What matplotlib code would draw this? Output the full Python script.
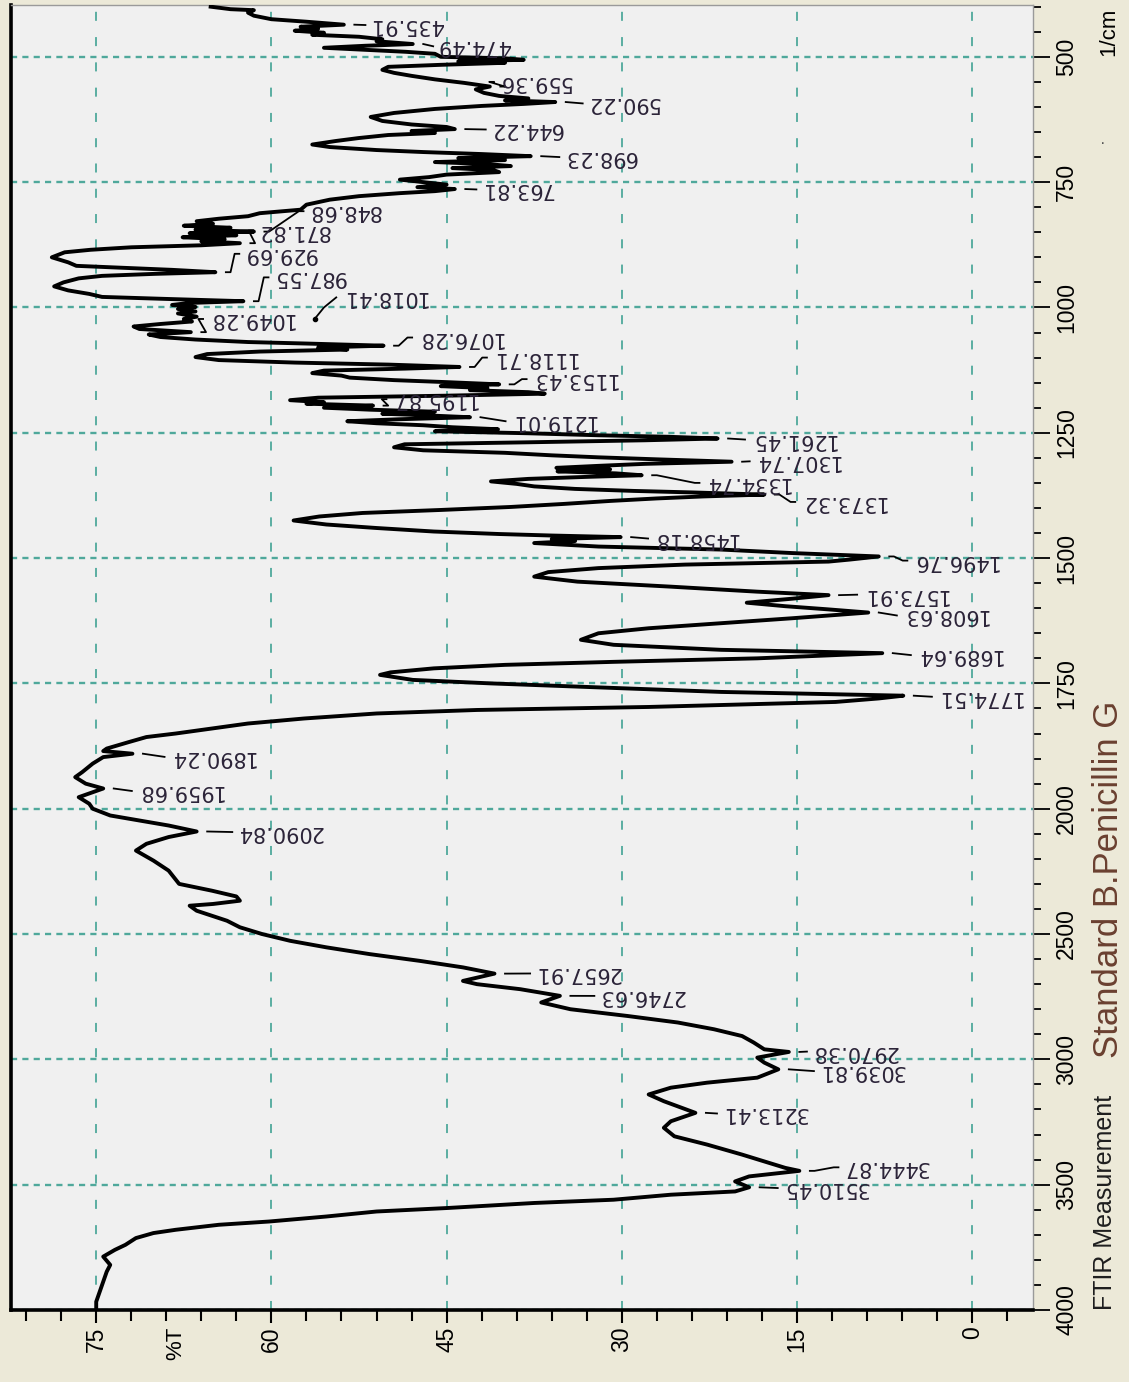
import numpy as np
import matplotlib
matplotlib.use("Agg")
import matplotlib.pyplot as plt
from matplotlib.ticker import MultipleLocator, FixedLocator

# FTIR trace: wavenumber (1/cm) and transmittance (%T)
wavenumber = [
    400, 405, 407, 412, 418, 425, 430, 435.91, 440, 444, 448, 452, 456, 460, 465, 469,
    474.49, 478, 482, 486, 490, 494, 500, 503, 506, 509, 512, 516, 520, 526, 532, 538,
    545, 552, 559.36, 565, 572, 578, 583, 587, 590.22, 594, 598, 604, 612, 620, 628, 635,
    640, 644.22, 648, 652, 656, 662, 668, 675, 680, 686, 690, 694, 698.23, 702, 706, 710,
    714, 718, 722, 726, 730, 735, 740, 745, 750, 755, 760, 763.81, 768, 772, 778, 785,
    795, 805, 812, 818, 823, 828, 833, 837, 841, 845, 848.68, 852, 856, 860, 864, 868,
    871.82, 876, 880, 885, 890, 900, 910, 917, 921, 925, 929.69, 933, 937, 942, 950, 958,
    966, 973, 979, 983, 987.55, 991, 995, 999, 1003, 1008, 1012, 1018.41, 1023, 1028, 1033, 1038,
    1043, 1049.28, 1054, 1059, 1064, 1069, 1072, 1076.28, 1080, 1084, 1088, 1093, 1099, 1105, 1110, 1114,
    1118.71, 1122, 1126, 1131, 1136, 1140, 1145, 1149, 1153.43, 1157, 1161, 1165, 1169, 1172, 1176, 1180,
    1185, 1189, 1192, 1195.87, 1200, 1204, 1208, 1212, 1215, 1219.01, 1223, 1227, 1231, 1235, 1239, 1243,
    1247, 1251, 1255, 1258, 1261.45, 1265, 1269, 1273, 1279, 1285, 1290, 1295, 1299, 1303, 1307.74, 1312,
    1316, 1320, 1323, 1327, 1331, 1334.74, 1338, 1342, 1347, 1352, 1357, 1362, 1366, 1369, 1373.32, 1377,
    1381, 1386, 1392, 1398, 1404, 1410, 1417, 1425, 1433, 1440, 1447, 1452, 1455, 1458.18, 1462, 1466,
    1470, 1477, 1483, 1490, 1496.76, 1503, 1507, 1513, 1520, 1528, 1537, 1547, 1557, 1567, 1573.91, 1581,
    1589, 1596, 1602, 1608.63, 1620, 1630, 1640, 1650, 1663, 1673, 1683, 1689.64, 1700, 1707, 1713, 1720,
    1728, 1733, 1743, 1750, 1759, 1767, 1774.51, 1780, 1787, 1797, 1803, 1810, 1820, 1830, 1840, 1850,
    1857, 1867, 1880, 1885, 1890.24, 1897, 1910, 1927, 1937, 1950, 1959.68, 1977, 1990, 2000, 2027, 2047,
    2067, 2090.84, 2113, 2140, 2167, 2207, 2247, 2300, 2327, 2350, 2367, 2380, 2387, 2407, 2447, 2473,
    2500, 2527, 2553, 2580, 2607, 2633, 2657.91, 2687, 2700, 2720, 2746.63, 2773, 2800, 2827, 2853, 2880,
    2907, 2933, 2960, 2970.38, 2993, 3013, 3039.81, 3073, 3093, 3113, 3140, 3167, 3193, 3213.41, 3247, 3273,
    3307, 3340, 3380, 3407, 3433, 3444.87, 3467, 3487, 3510.45, 3527, 3540, 3560, 3573, 3593, 3607, 3627,
    3647, 3660, 3680, 3693, 3713, 3740, 3760, 3787, 3820, 3847, 3887, 3927, 3967, 4000,
]
transmittance = [
    65.2, 63.5, 61.5, 62.0, 61.5, 60.0, 57.0, 53.8, 57.5, 56.0, 58.0, 55.5, 56.5, 52.5, 50.5, 51.0,
    47.9, 52.0, 55.5, 52.0, 48.5, 46.0, 45.5, 40.0, 38.4, 44.0, 40.0, 45.5, 50.0, 50.5, 49.5, 48.0,
    46.0, 43.5, 41.3, 42.5, 41.8, 40.5, 38.0, 40.0, 35.7, 38.4, 42.0, 46.0, 49.5, 51.5, 50.5, 48.0,
    45.0, 44.3, 48.0, 46.0, 50.0, 52.5, 54.5, 56.5, 55.0, 51.0, 47.0, 42.0, 37.8, 44.0, 40.0, 46.0,
    41.5, 39.5, 44.5, 41.0, 40.5, 45.0, 46.5, 49.0, 47.0, 45.0, 47.5, 44.3, 46.0, 49.0, 52.5, 55.0,
    57.0, 57.5, 61.0, 62.0, 64.5, 66.4, 65.0, 67.5, 63.5, 66.5, 61.5, 67.0, 63.0, 67.6, 64.0, 66.0,
    62.7, 66.0, 72.0, 75.5, 77.7, 78.8, 77.4, 76.7, 72.5, 68.5, 64.8, 70.0, 74.5, 76.5, 77.8, 78.6,
    77.4, 75.6, 74.5, 69.0, 62.4, 67.0, 68.5, 66.5, 68.0, 66.5, 68.0, 66.4, 67.5, 66.8, 69.5, 71.8,
    71.3, 66.9, 70.5, 69.5, 66.5, 62.0, 57.0, 50.4, 56.0, 53.5, 61.0, 65.5, 66.5, 64.5, 58.0, 50.0,
    43.9, 48.5, 55.5, 56.5, 54.0, 53.3, 49.5, 45.0, 40.5, 45.5, 41.5, 43.0, 38.0, 36.6, 45.0, 56.0,
    58.4, 55.5, 57.0, 51.3, 55.5, 51.5, 46.0, 50.5, 47.0, 43.0, 49.0, 53.5, 51.0, 47.0, 44.5, 40.6,
    46.0, 38.0, 32.0, 26.0, 21.8, 28.0, 38.0, 48.6, 49.5, 47.0, 40.0, 36.0, 32.0, 27.0, 20.6, 28.0,
    32.0, 35.6, 31.0, 35.5, 30.5, 28.3, 33.0, 38.0, 41.2, 39.0, 37.5, 34.0, 29.0, 24.0, 17.8, 23.0,
    27.0, 31.0, 35.0, 39.5, 45.5, 52.2, 55.9, 58.1, 55.3, 51.0, 46.1, 40.5, 36.0, 30.1, 36.0, 34.0,
    37.5, 32.0, 21.5, 15.4, 8.0, 10.5, 12.3, 24.6, 32.0, 36.3, 37.5, 33.8, 25.8, 18.4, 12.3, 15.4,
    19.3, 16.0, 12.5, 8.9, 15.4, 21.5, 27.7, 32.0, 33.5, 30.7, 21.5, 7.7, 18.4, 30.7, 40.0, 46.1,
    49.8, 50.7, 47.9, 41.2, 30.7, 21.5, 5.9, 8.0, 11.7, 27.7, 42.4, 51.0, 57.2, 62.0, 65.1, 68.2,
    70.7, 72.2, 74.1, 74.4, 71.9, 74.4, 75.3, 76.2, 76.8, 75.9, 74.4, 76.5, 75.6, 75.3, 73.8, 71.3,
    68.8, 66.4, 68.8, 70.7, 71.6, 70.1, 68.8, 67.9, 65.1, 63.0, 62.7, 65.0, 67.0, 66.4, 63.8, 62.7,
    60.8, 58.4, 55.3, 51.6, 47.3, 43.6, 40.9, 43.6, 42.4, 38.7, 35.3, 36.9, 34.4, 29.5, 25.2, 22.1,
    19.7, 18.7, 17.8, 15.7, 18.4, 17.8, 16.6, 18.4, 22.7, 25.8, 27.7, 26.4, 24.9, 23.7, 25.8, 26.4,
    25.5, 22.7, 19.7, 17.8, 16.0, 14.8, 19.1, 20.3, 19.1, 20.3, 25.8, 30.7, 37.5, 44.9, 51.0, 55.3,
    60.2, 64.5, 68.2, 70.1, 71.6, 72.5, 73.4, 74.4, 73.8, 74.1, 74.4, 74.7, 75.0, 75.0,
]

# picked peaks (1/cm)
peaks = [
    435.91, 474.49, 559.36, 590.22, 644.22, 698.23, 763.81, 848.68, 871.82, 929.69,
    987.55, 1018.41, 1049.28, 1076.28, 1118.71, 1153.43, 1195.87, 1219.01, 1261.45, 1307.74,
    1334.74, 1373.32, 1458.18, 1496.76, 1573.91, 1608.63, 1689.64, 1774.51, 1890.24, 1959.68,
    2090.84, 2657.91, 2746.63, 2970.38, 3039.81, 3213.41, 3444.87, 3510.45,
]

# label placement: row (1/cm) and %T where the text begins
label_layout = [
    (436.6, 51.6), (479, 45.8), (550, 40.6), (593, 33.0), (645, 41.3), (700, 35.0),
    (764.6, 42.1), (808, 56.9), (846.6, 61.2), (893, 62.4), (940, 59.9), (980, 54.1),
    (1023, 65.5), (1060, 47.6), (1100, 41.2), (1143, 37.8), (1183, 49.8), (1227, 39.6),
    (1263.5, 19.1), (1307, 18.7), (1350, 23.0), (1388, 14.8), (1461, 27.4), (1505, 5.2),
    (1573, 9.5), (1614.5, 6.1), (1693.5, 4.9), (1776.6, 3.1), (1896.6, 68.8), (1964.6, 71.6),
    (2093, 63.0), (2657.4, 37.5), (2746.8, 32.0), (2969, 13.8), (3046.8, 13.2), (3216, 21.5),
    (3430.8, 11.1), (3513.4, 16.3),
]

t_ticks = [0, 15, 30, 45, 60, 75]
wn_ticks = [500, 750, 1000, 1250, 1500, 1750, 2000, 2500, 3000, 3500, 4000]
wn_minor = [w for w in list(range(400, 2000, 50)) + list(range(2100, 4000, 100)) if w not in wn_ticks]

BG = "#ECE9D8"
GRID = "#4FA89B"
SANS = ["Liberation Sans", "DejaVu Sans"]


# Shimadzu style axis: 2x expansion below 2000 1/cm
def fwd(w):
    w = np.asarray(w, dtype=float)
    return np.where(w <= 2000, w, 2000 + (w - 2000) / 2.0)


def inv(p):
    p = np.asarray(p, dtype=float)
    return np.where(p <= 2000, p, 2000 + (p - 2000) * 2.0)


fig = plt.figure(figsize=(11.29, 13.82), dpi=100, facecolor=BG)
ax = fig.add_axes([0.0097, 0.0521, 0.9052, 0.9443])
ax.set_facecolor("#F0F0F0")

ax.set_yscale("function", functions=(fwd, inv))
ax.set_ylim(4000, 396.6)
ax.set_xlim(82.3, -5.2)

ax.plot(transmittance, wavenumber, color="black", lw=2.8, zorder=3)

# peak labels, drawn upside down with their leaders
for pk, (row, start) in zip(peaks, label_layout):
    tp = float(np.interp(pk, wavenumber, transmittance))
    a = tp - 0.9
    b = start + 0.35
    if pk == 1018.41:
        xs = [56.3, 55.5, b]
        ys = [1023, 1000, row]
        ax.plot([56.3], [1023], "o", color="black", ms=3, zorder=4)
    elif abs(row - pk) <= 8:
        xs, ys = [a, b], [pk, row]
    else:
        xs = [a, a - 0.4, b + 0.4, b]
        ys = [pk, pk, row, row]
    ax.plot(xs, ys, color="black", lw=1.3, zorder=4)
    ax.text(start, row, f"{pk:.2f}", rotation=180, ha="left", va="center",
            fontsize=15, color="#2b2338", family="DejaVu Sans", zorder=5)

ax.set_xticks(t_ticks)
ax.set_xticklabels([str(t) for t in t_ticks])
ax.xaxis.set_minor_locator(MultipleLocator(3))
ax.yaxis.tick_right()
ax.set_yticks(wn_ticks)
ax.set_yticklabels([str(w) for w in wn_ticks])
ax.yaxis.set_minor_locator(FixedLocator(wn_minor))

ax.tick_params(axis="x", which="major", direction="out", length=9, width=1.5,
               pad=3, labelsize=16.5, labelrotation=90, colors="black")
ax.tick_params(axis="x", which="minor", direction="out", length=8, width=1.5)
ax.tick_params(axis="y", which="major", direction="out", length=12, width=1.3,
               pad=4, labelsize=16.5, labelrotation=90, right=True, left=False,
               labelright=True, labelleft=False)
ax.tick_params(axis="y", which="minor", direction="out", length=6, width=1.3,
               right=True, left=False)
for lbl in ax.get_yticklabels():
    lbl.set_va("center")
    lbl.set_family(SANS)
for lbl in ax.get_xticklabels():
    lbl.set_family(SANS)

ax.set_axisbelow(True)
ax.grid(axis="x", which="major", color=GRID, linestyle=(0, (5, 9)), lw=1.3)
ax.grid(axis="y", which="major", color=GRID, linestyle=(0, (2.6, 2.2)), lw=1.7)

for side in ("left", "bottom"):
    ax.spines[side].set_linewidth(2.6)
    ax.spines[side].set_color("black")
for side in ("top", "right"):
    ax.spines[side].set_linewidth(1.0)
    ax.spines[side].set_color("#9a9a9a")

ax.annotate("%T", xy=(68.2, 0), xycoords=("data", "axes fraction"),
            xytext=(0, -12), textcoords="offset points", rotation=90,
            ha="center", va="top", fontsize=16, family=SANS)

fig.text(0.982, 0.977, "1/cm", rotation=90, ha="center", va="center",
         fontsize=16, family=SANS)
fig.text(0.977, 0.8965, "\u00b7", ha="center", va="center", fontsize=12,
         color="#555555", family=SANS)
fig.text(0.979, 0.052, "FTIR Measurement", rotation=90, ha="center", va="bottom",
         fontsize=18, color="#1e1e1e", family=SANS)
fig.text(0.982, 0.2345, "Standard B.Penicillin G", rotation=90, ha="center",
         va="bottom", fontsize=25, color="#6a4030", family=SANS)

fig.savefig("out.png", dpi=100, facecolor=BG)
